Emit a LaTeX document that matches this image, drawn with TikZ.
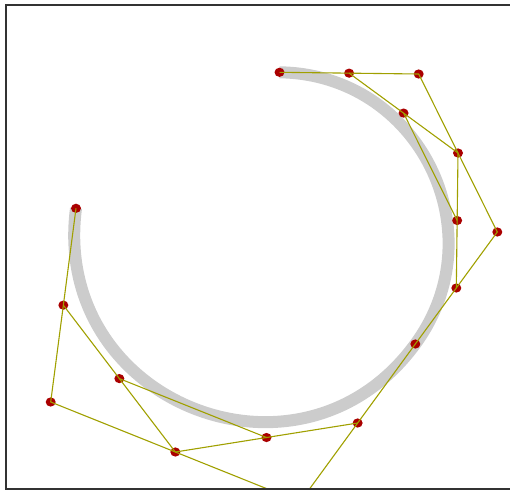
\documentclass[tikz,border=0pt]{standalone}
\usetikzlibrary{calc}
\definecolor{dotred}{RGB}{170,0,0}
\definecolor{ctrl}{RGB}{160,160,0}
\definecolor{curvegray}{RGB}{204,204,204}
\definecolor{framecol}{RGB}{50,50,50}
\begin{document}
\begin{tikzpicture}[x=1pt,y=-1pt,
  dot/.style={fill=dotred},
  ctrlline/.style={draw=ctrl, line width=1.1pt, line join=round},
  curveline/.style={draw=curvegray, line width=12pt},
  frameline/.style={draw=framecol, line width=1.3pt}]
\useasboundingbox (0,0) rectangle (510,490);
% control points of the two cubic Bezier pieces
\coordinate (A) at (279.5,72.3);
\coordinate (C) at (418.7,74);
\coordinate (G) at (497.3,232);
\coordinate (I) at (415.3,344);
\coordinate (X) at (300,502);
\coordinate (N) at (50.7,402);
\coordinate (P) at (76,208.3);
% de Casteljau construction at t = 1/2
\coordinate (B) at ($(A)!0.5!(C)$);
\coordinate (E) at ($(C)!0.5!(G)$);
\coordinate (H) at ($(G)!0.5!(I)$);
\coordinate (D) at ($(B)!0.5!(E)$);
\coordinate (F) at ($(E)!0.5!(H)$);
\coordinate (J) at ($(I)!0.5!(X)$);
\coordinate (L) at ($(X)!0.5!(N)$);
\coordinate (O) at ($(N)!0.5!(P)$);
\coordinate (K) at ($(J)!0.5!(L)$);
\coordinate (M) at ($(L)!0.5!(O)$);
\begin{scope}
\clip (6,5) rectangle (511,489);
\draw[curveline] (A) .. controls (C) and (G) .. (I) .. controls (X) and (N) .. (P);
\foreach \p in {A,B,C,D,E,F,G,H,I,J,K,L,M,N,O,P}
  \fill[dot] (\p) ellipse [x radius=5, y radius=4.6];
\draw[ctrlline] (A) -- (C) -- (G) -- (I) -- (X) -- (N) -- (P);
\draw[ctrlline] (B) -- (E) -- (H);
\draw[ctrlline] (J) -- (L) -- (O);
\draw[ctrlline] (D) -- (F);
\draw[ctrlline] (K) -- (M);
\end{scope}
\draw[frameline] (6,5) rectangle (511,489);
\end{tikzpicture}
\end{document}
